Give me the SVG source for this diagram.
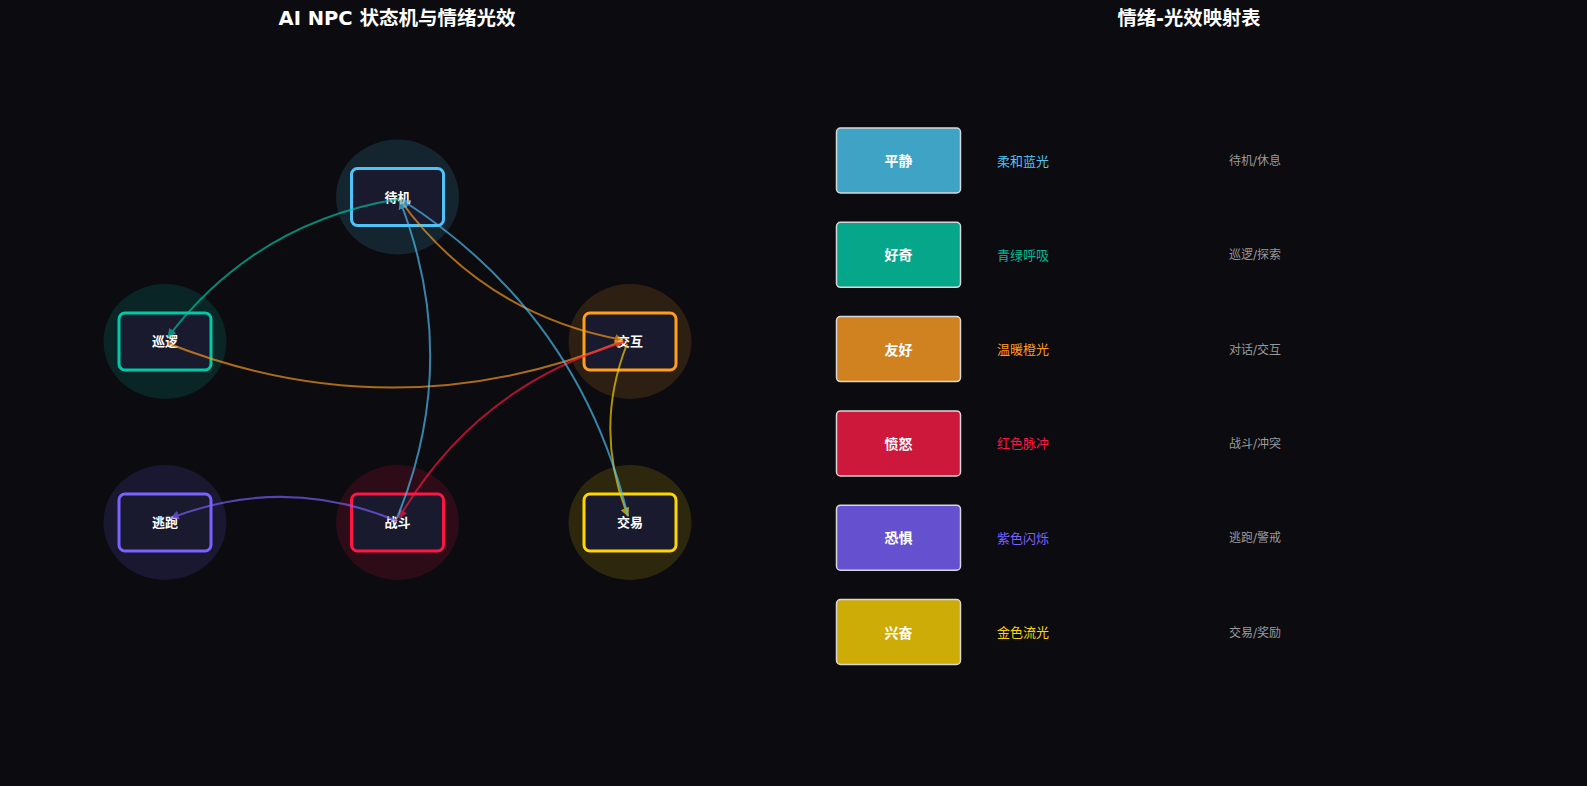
<svg xmlns="http://www.w3.org/2000/svg" width="1587" height="786" viewBox="0 0 1587 786">
<style>
.title{font-family:"DejaVu Sans","Noto Sans CJK SC",sans-serif;font-weight:bold;fill:#ffffff;text-anchor:middle}
.nlabel{font-family:"Noto Sans CJK SC","DejaVu Sans",sans-serif;font-weight:bold;font-size:13px;fill:#ffffff;text-anchor:middle}
.nrect{fill:#1a1a2e;stroke-width:3}
.halo{opacity:0.14}
.edge{fill:none;stroke-width:2;opacity:0.66}
.tbox{stroke:#d8d8d8;stroke-width:1.5}
.tlabel{font-family:"Noto Sans CJK SC","DejaVu Sans",sans-serif;font-weight:bold;font-size:14px;fill:#ffffff;text-anchor:middle}
.emo{font-family:"Noto Sans CJK SC","DejaVu Sans",sans-serif;font-size:13px}
.desc{font-family:"DejaVu Sans","Noto Sans CJK SC",sans-serif;font-size:12px;fill:#9a9a9a}
</style>
<defs>
<marker id="aTeal" viewBox="0 0 10 10" refX="9" refY="5" markerWidth="9" markerHeight="9" markerUnits="userSpaceOnUse" orient="auto"><path d="M0,0 L10,5 L0,10 z" fill="#00c9a7"/></marker>
<marker id="aOrange" viewBox="0 0 10 10" refX="9" refY="5" markerWidth="9" markerHeight="9" markerUnits="userSpaceOnUse" orient="auto"><path d="M0,0 L10,5 L0,10 z" fill="#ff9f1c"/></marker>
<marker id="aRed" viewBox="0 0 10 10" refX="9" refY="5" markerWidth="9" markerHeight="9" markerUnits="userSpaceOnUse" orient="auto"><path d="M0,0 L10,5 L0,10 z" fill="#ff1744"/></marker>
<marker id="aYellow" viewBox="0 0 10 10" refX="9" refY="5" markerWidth="9" markerHeight="9" markerUnits="userSpaceOnUse" orient="auto"><path d="M0,0 L10,5 L0,10 z" fill="#ffd600"/></marker>
<marker id="aBlue" viewBox="0 0 10 10" refX="9" refY="5" markerWidth="9" markerHeight="9" markerUnits="userSpaceOnUse" orient="auto"><path d="M0,0 L10,5 L0,10 z" fill="#4fc3f7"/></marker>
<marker id="aPurple" viewBox="0 0 10 10" refX="9" refY="5" markerWidth="9" markerHeight="9" markerUnits="userSpaceOnUse" orient="auto"><path d="M0,0 L10,5 L0,10 z" fill="#7b61ff"/></marker>
</defs>
<rect x="0" y="0" width="1587" height="786" fill="#0b0b10"/>
<text class="title" x="397" y="24.5" font-size="19.5">AI NPC 状态机与情绪光效</text>
<text class="title" x="1189" y="24.5" font-size="19.3">情绪-光效映射表</text>

<g id="node-idle">
<ellipse class="halo" cx="397.5" cy="197" rx="61.5" ry="57.5" fill="#4fc3f7"/>
<rect class="nrect" x="351.5" y="168.5" width="92" height="57" rx="6" stroke="#4fc3f7"/>
<text class="nlabel" x="397.5" y="201.5">待机</text>
</g>
<g id="node-patrol">
<ellipse class="halo" cx="165" cy="341.5" rx="61.5" ry="57.5" fill="#00c9a7"/>
<rect class="nrect" x="119" y="313" width="92" height="57" rx="6" stroke="#00c9a7"/>
<text class="nlabel" x="165" y="345.5">巡逻</text>
</g>
<g id="node-interact">
<ellipse class="halo" cx="630" cy="341.5" rx="61.5" ry="57.5" fill="#ff9f1c"/>
<rect class="nrect" x="584" y="313" width="92" height="57" rx="6" stroke="#ff9f1c"/>
<text class="nlabel" x="630" y="345.5">交互</text>
</g>
<g id="node-flee">
<ellipse class="halo" cx="165" cy="522.5" rx="61.5" ry="57.5" fill="#7b61ff"/>
<rect class="nrect" x="119" y="494" width="92" height="57" rx="6" stroke="#7b61ff"/>
<text class="nlabel" x="165" y="526.5">逃跑</text>
</g>
<g id="node-combat">
<ellipse class="halo" cx="397.5" cy="522.5" rx="61.5" ry="57.5" fill="#ff1744"/>
<rect class="nrect" x="351.5" y="494" width="92" height="57" rx="6" stroke="#ff1744"/>
<text class="nlabel" x="397.5" y="526.5">战斗</text>
</g>
<g id="node-trade">
<ellipse class="halo" cx="630" cy="522.5" rx="61.5" ry="57.5" fill="#ffd600"/>
<rect class="nrect" x="584" y="494" width="92" height="57" rx="6" stroke="#ffd600"/>
<text class="nlabel" x="630" y="526.5">交易</text>
</g>

<g id="connectors">
<path class="edge" d="M399,199 Q255.9,221.8 168,337" stroke="#00c9a7" marker-end="url(#aTeal)"/>
<path class="edge" d="M400,200 Q483.5,314.6 623,340" stroke="#ff9f1c" marker-end="url(#aOrange)"/>
<path class="edge" d="M167,343 Q395.4,433.2 623,341" stroke="#ff9f1c" marker-end="url(#aOrange)"/>
<path class="edge" d="M625,342 Q476.8,384.8 399,518" stroke="#ff1744" marker-end="url(#aRed)"/>
<path class="edge" d="M627,344 Q593.1,430.2 628,516" stroke="#ffd600" marker-end="url(#aYellow)"/>
<path class="edge" d="M397,518 Q461.9,360.1 400,201" stroke="#4fc3f7" marker-end="url(#aBlue)"/>
<path class="edge" d="M397,521 Q284.6,474.3 171,518" stroke="#7b61ff" marker-end="url(#aPurple)"/>
<path class="edge" d="M628,516 Q578.2,312.8 402,200" stroke="#4fc3f7" marker-end="url(#aBlue)"/>
</g>

<g id="row-calm">
<rect class="tbox" x="836.5" y="128" width="124" height="65" rx="4" fill="#3ea3c5"/>
<text class="tlabel" x="898.5" y="166">平静</text>
<text class="emo" x="997" y="165.5" fill="#4fc3f7">柔和蓝光</text>
<text class="desc" x="1229" y="165">待机/休息</text>
</g>
<g id="row-curious">
<rect class="tbox" x="836.5" y="222.3" width="124" height="65" rx="4" fill="#05a68a"/>
<text class="tlabel" x="898.5" y="260.3">好奇</text>
<text class="emo" x="997" y="259.8" fill="#00b894">青绿呼吸</text>
<text class="desc" x="1229" y="259.3">巡逻/探索</text>
</g>
<g id="row-friendly">
<rect class="tbox" x="836.5" y="316.6" width="124" height="65" rx="4" fill="#cf821f"/>
<text class="tlabel" x="898.5" y="354.6">友好</text>
<text class="emo" x="997" y="354.1" fill="#ff9f1c">温暖橙光</text>
<text class="desc" x="1229" y="353.6">对话/交互</text>
</g>
<g id="row-angry">
<rect class="tbox" x="836.5" y="410.9" width="124" height="65" rx="4" fill="#cd173b"/>
<text class="tlabel" x="898.5" y="448.9">愤怒</text>
<text class="emo" x="997" y="448.4" fill="#ff1744">红色脉冲</text>
<text class="desc" x="1229" y="447.9">战斗/冲突</text>
</g>
<g id="row-fear">
<rect class="tbox" x="836.5" y="505.2" width="124" height="65" rx="4" fill="#6551cf"/>
<text class="tlabel" x="898.5" y="543.2">恐惧</text>
<text class="emo" x="997" y="542.7" fill="#7b61ff">紫色闪烁</text>
<text class="desc" x="1229" y="542.2">逃跑/警戒</text>
</g>
<g id="row-excited">
<rect class="tbox" x="836.5" y="599.5" width="124" height="65" rx="4" fill="#cdac07"/>
<text class="tlabel" x="898.5" y="637.5">兴奋</text>
<text class="emo" x="997" y="637" fill="#ffd600">金色流光</text>
<text class="desc" x="1229" y="636.5">交易/奖励</text>
</g>
</svg>
